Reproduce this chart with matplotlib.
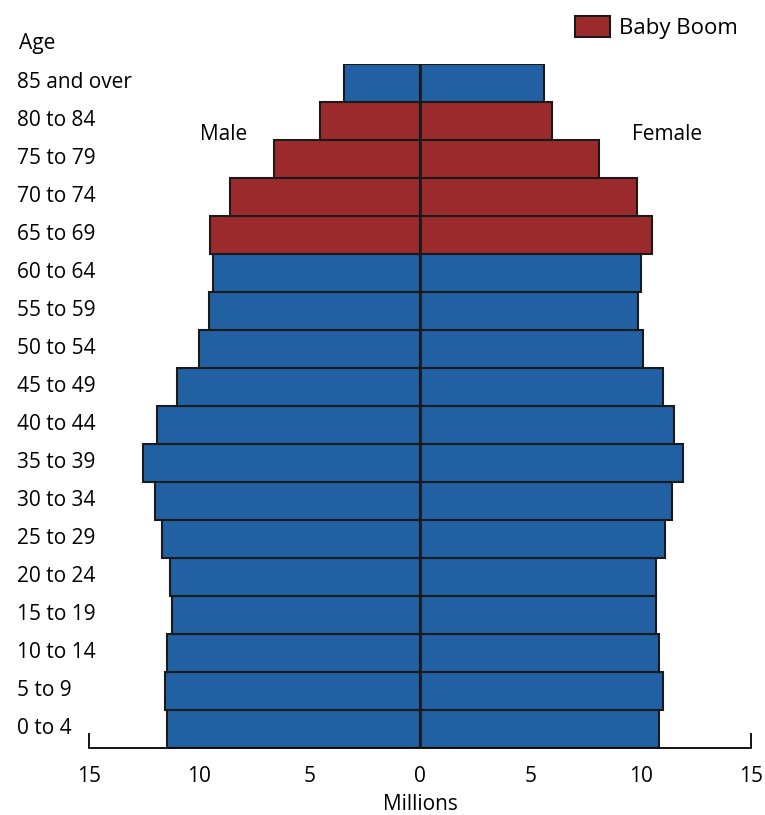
import matplotlib
matplotlib.use('Agg')
import matplotlib.pyplot as plt
from matplotlib.transforms import blended_transform_factory
from matplotlib.patches import Patch

plt.rcParams['font.family'] = ['Open Sans', 'DejaVu Sans']

# age groups, bottom to top
ages = ['0 to 4', '5 to 9', '10 to 14', '15 to 19', '20 to 24', '25 to 29',
        '30 to 34', '35 to 39', '40 to 44', '45 to 49', '50 to 54', '55 to 59',
        '60 to 64', '65 to 69', '70 to 74', '75 to 79', '80 to 84', '85 and over']
male = [11.45, 11.55, 11.45, 11.25, 11.35, 11.7, 12.0, 12.55, 11.9, 11.0,
        10.0, 9.55, 9.4, 9.5, 8.6, 6.6, 4.55, 3.45]
female = [10.85, 11.0, 10.85, 10.7, 10.7, 11.1, 11.4, 11.9, 11.5, 11.0,
          10.1, 9.9, 10.0, 10.5, 9.85, 8.1, 6.0, 5.6]
boom = ['65 to 69', '70 to 74', '75 to 79', '80 to 84']
xticks = [-15, -10, -5, 0, 5, 10, 15]

blue = '#2161a3'
red = '#9b2a2c'
colors = [red if a in boom else blue for a in ages]
pos = list(range(len(ages)))

fig = plt.figure(figsize=(7.65, 8.15), dpi=100)
ax = fig.add_axes([89 / 765, 67 / 815, 662 / 765, 684 / 815])

ax.barh(pos, [-m for m in male], height=1.0, color=colors, edgecolor='#1a1a1a', linewidth=1.5)
ax.barh(pos, female, height=1.0, color=colors, edgecolor='#1a1a1a', linewidth=1.5)
ax.axvline(0, color='#1a1a1a', linewidth=2, zorder=3)

ax.set_xlim(-15, 15)
ax.set_ylim(-0.5, len(ages) - 0.5)
ax.set_xticks(xticks)
ax.set_xticklabels([str(abs(t)) for t in xticks], fontsize=15)
ax.tick_params(axis='x', length=0, pad=13)
# small upward ticks only at the two ends of the axis
ax.xaxis.remove_overlapping_locs = False
ax.set_xticks([-15, 15], minor=True)
ax.tick_params(axis='x', which='minor', direction='in', length=11, width=1.3)
ax.set_yticks([])
for s in ['top', 'right', 'left']:
    ax.spines[s].set_visible(False)
ax.spines['bottom'].set_linewidth(1.3)
ax.set_xlabel('Millions', fontsize=15, labelpad=5)

# age labels on the left edge of the figure
tr = blended_transform_factory(fig.transFigure, ax.transData)
for p, a in zip(pos, ages):
    ax.text(17 / 765, p, a, transform=tr, ha='left', va='center', fontsize=15)
ax.text(19 / 765, len(ages) + 0.05, 'Age', transform=tr, ha='left', va='center', fontsize=15, clip_on=False)

ax.text(-8.9, 15.65, 'Male', ha='center', va='center', fontsize=15)
ax.text(11.2, 15.65, 'Female', ha='center', va='center', fontsize=15)

fig.legend(handles=[Patch(facecolor=red, edgecolor='#1a1a1a', linewidth=1.5, label='Baby Boom')],
           loc='upper right', bbox_to_anchor=(0.985, 1.0), frameon=False, fontsize=16,
           handlelength=1.6, handleheight=1.1, handletextpad=0.4, borderaxespad=0.3)

fig.savefig('out.png', dpi=100)
